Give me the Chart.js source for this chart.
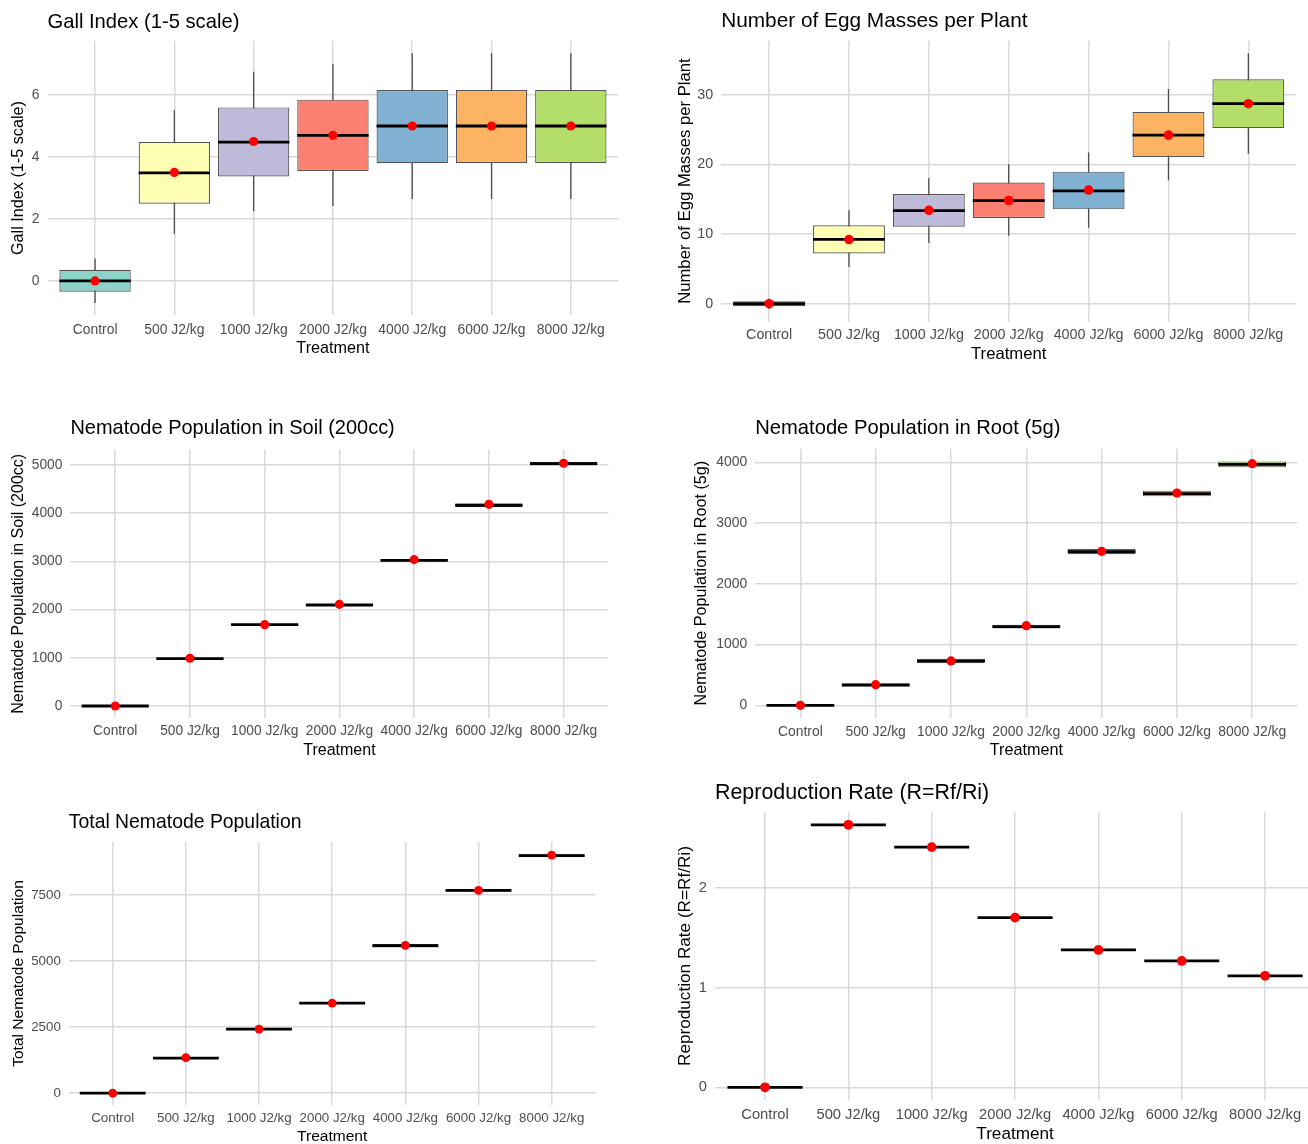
<!DOCTYPE html>
<html lang="en">
<head>
<meta charset="UTF-8">
<title>Nematode inoculation trial</title>
<script src="https://cdn.jsdelivr.net/npm/chart.js@4"></script>
<style>
  body { margin: 0; width: 1308px; height: 1144px; overflow: hidden; background: #fff; position: relative; }
  canvas { position: absolute; }
</style>
</head>
<body>
<script>
  const treatments = ['Control', '500 J2/kg', '1000 J2/kg', '2000 J2/kg', '4000 J2/kg', '6000 J2/kg', '8000 J2/kg'];
  const boxColors = ['#8DD3C7', '#FFFFB3', '#BEBADA', '#FB8072', '#80B1D3', '#FDB462', '#B3DE69'];

  // Gall index
  const gallLow  = [-0.71, 1.52, 2.25, 2.42, 2.64, 2.64, 2.64];
  const gallQ1   = [-0.35, 2.49, 3.37, 3.55, 3.80, 3.80, 3.80];
  const gallMed  = [0, 3.49, 4.48, 4.70, 5.00, 5.00, 5.00];
  const gallQ3   = [0.36, 4.48, 5.60, 5.85, 6.16, 6.16, 6.16];
  const gallHigh = [0.72, 5.51, 6.75, 7.00, 7.35, 7.35, 7.35];
  const gallMean = [0, 3.50, 4.50, 4.70, 5.00, 5.00, 5.00];
  const gallTicks = [0, 2, 4, 6];

  // Egg masses per plant
  const eggLow  = [-0.75, 5.26, 8.7, 9.76, 10.9, 17.7, 21.5];
  const eggQ1   = [-0.35, 7.22, 11.05, 12.3, 13.54, 21.05, 25.2];
  const eggMed  = [0, 9.23, 13.35, 14.8, 16.2, 24.2, 28.7];
  const eggQ3   = [0.35, 11.24, 15.74, 17.4, 18.95, 27.5, 32.2];
  const eggHigh = [0.75, 13.4, 18.04, 20.0, 21.7, 30.8, 35.95];
  const eggMean = [0, 9.2, 13.4, 14.8, 16.3, 24.2, 28.7];
  const eggTicks = [0, 10, 20, 30];

  // Soil population (200cc)
  const soilLow  = [0, 970, 1670, 2078, 2995, 4110, 4980];
  const soilQ1   = [0, 975, 1677, 2085, 3000, 4125, 4990];
  const soilMed  = [0, 982, 1687, 2095, 3022, 4163, 5028];
  const soilQ3   = [0, 990, 1697, 2110, 3045, 4205, 5065];
  const soilHigh = [0, 995, 1704, 2117, 3050, 4220, 5070];
  const soilMean = [0, 989, 1687, 2109, 3036, 4184, 5035];
  const soilTicks = [0, 1000, 2000, 3000, 4000, 5000];

  // Root population (5g)
  const rootLow  = [0, 300, 680, 1255, 2475, 3430, 3905];
  const rootQ1   = [0, 307, 691, 1262, 2485, 3439, 3917];
  const rootMed  = [0, 335, 730, 1295, 2529, 3483, 3966];
  const rootQ3   = [0, 357, 768, 1327, 2572, 3533, 4015];
  const rootHigh = [0, 365, 778, 1335, 2582, 3545, 4021];
  const rootMean = [0, 340, 730, 1311, 2534, 3494, 3977];
  const rootTicks = [0, 1000, 2000, 3000, 4000];

  // Total population
  const totalLow  = [0, 1290, 2375, 3360, 5505, 7610, 8925];
  const totalQ1   = [0, 1300, 2385, 3370, 5515, 7625, 8935];
  const totalMed  = [0, 1326, 2424, 3409, 5581, 7677, 8990];
  const totalQ3   = [0, 1350, 2455, 3445, 5650, 7710, 9050];
  const totalHigh = [0, 1360, 2465, 3455, 5660, 7725, 9057];
  const totalMean = [0, 1338, 2424, 3409, 5593, 7677, 9015];
  const totalTicks = [0, 2500, 5000, 7500];

  // Reproduction rate
  const reproMed  = [0, 2.63, 2.407, 1.70, 1.376, 1.266, 1.117];
  const reproMean = [0, 2.63, 2.407, 1.70, 1.376, 1.266, 1.117];
  const reproTicks = [0, 1, 2];

  const FONT = "'Liberation Sans', Arial, sans-serif";

  // where each panel sits on the page (plot box, title / axis text centres) + text scale
  const panels = [
    { title: 'Gall Index (1-5 scale)', low: gallLow, q1: gallQ1, med: gallMed, q3: gallQ3, high: gallHigh, mean: gallMean, ticks: gallTicks,
      l: 47.5, r: 622.6, t: 40.7, b: 315.4, titleY: 21.7, yTitleX: 18.5, xLabY: 330, xTitleY: 348, s: 1.0 },
    { title: 'Number of Egg Masses per Plant', low: eggLow, q1: eggQ1, med: eggMed, q3: eggQ3, high: eggHigh, mean: eggMean, ticks: eggTicks,
      l: 721.2, r: 1300.6, t: 40.4, b: 321.7, titleY: 21.7, yTitleX: 685, xLabY: 335, xTitleY: 354, s: 1.03 },
    { title: 'Nematode Population in Soil (200cc)', low: soilLow, q1: soilQ1, med: soilMed, q3: soilQ3, high: soilHigh, mean: soilMean, ticks: soilTicks,
      l: 70.4, r: 612.9, t: 449.4, b: 718.2, titleY: 428.3, yTitleX: 18.5, xLabY: 731.7, xTitleY: 750, s: 0.99 },
    { title: 'Nematode Population in Root (5g)', low: rootLow, q1: rootQ1, med: rootMed, q3: rootQ3, high: rootHigh, mean: rootMean, ticks: rootTicks,
      l: 755.2, r: 1302, t: 448.8, b: 717.5, titleY: 428.3, yTitleX: 701.6, xLabY: 731.7, xTitleY: 750, s: 1.0 },
    { title: 'Total Nematode Population', low: totalLow, q1: totalQ1, med: totalMed, q3: totalQ3, high: totalHigh, mean: totalMean, ticks: totalTicks,
      l: 68.8, r: 600.4, t: 842, b: 1105, titleY: 822.3, yTitleX: 18.5, xLabY: 1118, xTitleY: 1137, s: 0.96 },
    { title: 'Reproduction Rate (R=Rf/Ri)', low: reproMed, q1: reproMed, med: reproMed, q3: reproMed, high: reproMed, mean: reproMean, ticks: reproTicks,
      l: 715, r: 1319.7, t: 811.7, b: 1100.4, titleY: 793.3, yTitleX: 685, xLabY: 1115, xTitleY: 1135, s: 1.06 }
  ];

  function makePanel(p) {
    const titleSize = 20.2 * p.s, axisSize = 16.2 * p.s, tickSize = 13.9 * p.s;
    const lhTitle = titleSize * 1.2, lhAxis = axisSize * 1.2, lhTick = tickSize * 1.2;

    const left = Math.round(p.yTitleX - lhAxis / 2 - 2);
    const top = Math.round(p.titleY - lhTitle / 2 - 2);
    const bottom = Math.round(p.xTitleY + lhAxis / 2 + 2);
    const yw = p.l - left;
    const xh = bottom - p.b;
    const titlePad = p.t - top - lhTitle - 2;
    const xPad = p.xLabY - p.b - lhTick / 2;

    const canvas = document.createElement('canvas');
    canvas.width = Math.round(p.r - left);
    canvas.height = bottom - top;
    canvas.style.left = left + 'px';
    canvas.style.top = top + 'px';
    document.body.appendChild(canvas);

    const lo = Math.min(...p.low), hi = Math.max(...p.high);
    const pad = (hi - lo) * 0.05;

    const whiskers = [];
    treatments.forEach((_, i) => {
      whiskers.push({ x: i, y: p.low[i] }, { x: i, y: p.high[i] }, { x: i, y: null });
    });

    const grid = { color: '#dadada', lineWidth: 1.5, drawTicks: false, offset: false };
    const tickFont = { family: FONT, size: tickSize };
    const axisFont = { family: FONT, size: axisSize, lineHeight: 1.2 };

    new Chart(canvas, {
      type: 'bar',
      data: {
        datasets: [
          {
            type: 'line',
            data: whiskers,
            borderColor: '#4d4d4d',
            borderWidth: 1.3,
            pointRadius: 0,
            spanGaps: false,
            order: 4
          },
          {
            type: 'bar',
            data: treatments.map((_, i) => ({ x: i, y: [p.q1[i], p.q3[i]] })),
            backgroundColor: boxColors,
            borderColor: '#555555',
            borderWidth: 1.2,
            borderSkipped: false,
            grouped: false,
            categoryPercentage: 1,
            barPercentage: 0.9,
            order: 3
          },
          {
            type: 'line',
            data: treatments.map((_, i) => ({ x: i, y: p.med[i] })),
            showLine: false,
            pointStyle: 'line',
            pointRadius: (ctx) => {
              const sx = ctx.chart.scales.x;
              return sx.getPixelForValue(0.45) - sx.getPixelForValue(0);
            },
            pointBorderColor: '#000',
            pointBorderWidth: 2.8,
            order: 2
          },
          {
            type: 'line',
            data: treatments.map((_, i) => ({ x: i, y: p.mean[i] })),
            showLine: false,
            pointStyle: 'circle',
            pointRadius: 4.6 * p.s,
            pointBackgroundColor: '#ff0000',
            pointBorderColor: '#ff0000',
            pointBorderWidth: 0,
            order: 1
          }
        ]
      },
      options: {
        responsive: false,
        animation: false,
        events: [],
        layout: { padding: 0 },
        plugins: {
          legend: { display: false },
          tooltip: { enabled: false },
          title: {
            display: true,
            text: p.title,
            align: 'start',
            fullSize: false,
            color: '#000',
            font: { family: FONT, size: titleSize, weight: 'normal', lineHeight: 1.2 },
            padding: { top: 2, bottom: titlePad }
          }
        },
        scales: {
          x: {
            type: 'linear',
            offset: false,
            min: -0.6,
            max: treatments.length - 0.4,
            afterBuildTicks: (s) => { s.ticks = treatments.map((_, i) => ({ value: i })); },
            afterFit: (s) => { s.height = xh; },
            grid: grid,
            border: { display: false },
            ticks: {
              autoSkip: false,
              maxRotation: 0,
              padding: xPad,
              color: '#4d4d4d',
              font: tickFont,
              callback: (v) => treatments[v]
            },
            title: { display: true, text: 'Treatment', color: '#000', font: axisFont, padding: { top: 0, bottom: 2 } }
          },
          y: {
            min: lo - pad,
            max: hi + pad,
            afterBuildTicks: (s) => { s.ticks = p.ticks.map((v) => ({ value: v })); },
            afterFit: (s) => { s.width = yw; },
            grid: grid,
            border: { display: false },
            ticks: { padding: 8, color: '#4d4d4d', font: tickFont, callback: (v) => String(v) },
            title: { display: true, text: p.title, color: '#000', font: axisFont, padding: { top: 2, bottom: 0 } }
          }
        }
      }
    });
  }

  panels.forEach(makePanel);
</script>
</body>
</html>
